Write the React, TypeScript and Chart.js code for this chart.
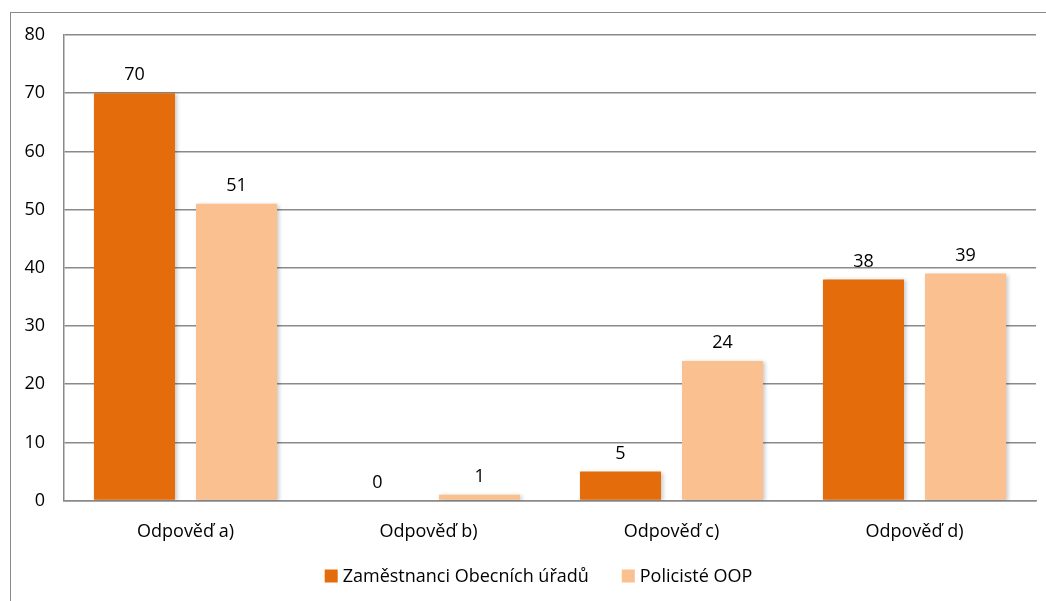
import React, { useEffect, useRef } from "react";
import { Chart, registerables } from "chart.js";

Chart.register(...registerables);

const categories = ["Odpověď a)", "Odpověď b)", "Odpověď c)", "Odpověď d)"];
const seriesNames = ["Zaměstnanci Obecních úřadů", "Policisté OOP"];
const seriesColors = ["#E46C0A", "#FAC090"];
const zamestnanci = [70, 0, 5, 38];
const policiste = [51, 1, 24, 39];
const yTicksMin = 0;
const yTicksMax = 80;
const yStep = 10;

const FONT_FAMILY = "'Open Sans', 'Noto Sans', sans-serif";
const FONT_SIZE = 18;

const shadowPlugin = {
  id: "barShadow",
  beforeDatasetsDraw(chart: any) {
    const ctx = chart.ctx;
    ctx.save();
    ctx.shadowColor = "rgba(0,0,0,0.22)";
    ctx.shadowBlur = 4;
    ctx.shadowOffsetX = 2;
    ctx.shadowOffsetY = 1;
  },
  afterDatasetsDraw(chart: any) {
    const ctx = chart.ctx;
    ctx.restore();
    ctx.save();
    ctx.font = `${FONT_SIZE}px ${FONT_FAMILY}`;
    ctx.fillStyle = "#000";
    ctx.textAlign = "center";
    ctx.textBaseline = "middle";
    chart.data.datasets.forEach((ds: any, i: number) => {
      const meta = chart.getDatasetMeta(i);
      meta.data.forEach((el: any, j: number) => {
        ctx.fillText(String(ds.data[j]), el.x, el.y - 18);
      });
    });
    ctx.restore();
  },
};

const legendPlugin = {
  id: "customLegend",
  afterDraw(chart: any) {
    const ctx = chart.ctx;
    ctx.save();
    ctx.font = `${FONT_SIZE}px ${FONT_FAMILY}`;
    ctx.textBaseline = "middle";
    ctx.textAlign = "left";
    const box = 13;
    const boxGap = 5;
    const itemGap = 33;
    const items = chart.data.datasets.map((ds: any) => ({
      label: ds.label,
      color: ds.backgroundColor,
      w: box + boxGap + ctx.measureText(ds.label).width,
    }));
    const total = items.reduce((a: number, it: any) => a + it.w, 0) + itemGap * (items.length - 1);
    let x = 538.5 - total / 2;
    const y = 576;
    items.forEach((it: any) => {
      ctx.fillStyle = it.color;
      ctx.fillRect(x, y - box / 2, box, box);
      ctx.fillStyle = "#000";
      ctx.fillText(it.label, x + box + boxGap, y + 1);
      x += it.w + itemGap;
    });
    ctx.restore();
  },
};

export default function App() {
  const ref = useRef<HTMLCanvasElement | null>(null);

  useEffect(() => {
    if (!ref.current) return;
    const font = { family: FONT_FAMILY, size: FONT_SIZE };
    const chart = new Chart(ref.current, {
      type: "bar",
      data: {
        labels: categories,
        datasets: [
          {
            label: seriesNames[0],
            data: zamestnanci,
            backgroundColor: seriesColors[0],
            categoryPercentage: 0.84,
            barPercentage: 0.794,
          },
          {
            label: seriesNames[1],
            data: policiste,
            backgroundColor: seriesColors[1],
            categoryPercentage: 0.84,
            barPercentage: 0.794,
          },
        ],
      },
      options: {
        responsive: false,
        animation: false,
        layout: { padding: { left: 0, right: 10, top: 35, bottom: 0 } },
        plugins: {
          legend: { display: false },
          tooltip: { enabled: false },
        },
        scales: {
          x: {
            grid: { display: false, drawTicks: false },
            border: { display: true, color: "#8a8a8a", width: 1.5 },
            ticks: { font, color: "#000", padding: 20 },
            afterFit: (s: any) => {
              s.height = 100.4;
            },
          },
          y: {
            min: yTicksMin,
            max: yTicksMax,
            ticks: { stepSize: yStep, font, color: "#000", padding: 19 },
            grid: { color: "#8a8a8a", drawTicks: false, lineWidth: 1.5 },
            border: { display: true, color: "#8a8a8a", width: 1.5 },
            afterFit: (s: any) => {
              s.width = 64;
            },
          },
        },
      },
      plugins: [shadowPlugin, legendPlugin],
    } as any);
    return () => chart.destroy();
  }, []);

  return (
    <div
      style={{
        position: "absolute",
        left: 0,
        top: 0,
        width: 1046,
        height: 601,
        overflow: "hidden",
        background: "#fff",
      }}
    >
      <div
        style={{
          position: "absolute",
          left: 10,
          top: 12,
          width: 1036,
          height: 589,
          boxSizing: "border-box",
          borderLeft: "1px solid #888",
          borderTop: "1px solid #888",
        }}
      />
      <canvas
        ref={ref}
        width={1046}
        height={601}
        style={{ position: "absolute", left: 0, top: 0, width: 1046, height: 601 }}
      />
    </div>
  );
}
